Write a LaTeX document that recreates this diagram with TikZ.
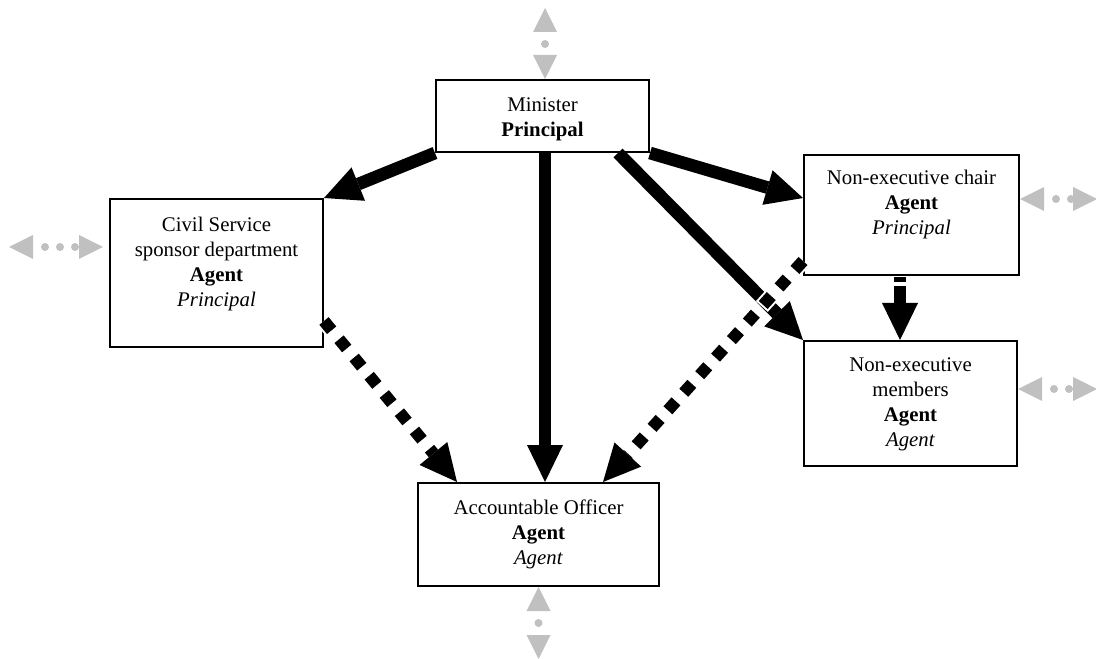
\documentclass[tikz,border=0pt]{standalone}
\usepackage{fontspec}
\setmainfont{Liberation Serif}
\usetikzlibrary{arrows.meta,calc}
\definecolor{lgrey}{RGB}{192,192,192}
\begin{document}
\begin{tikzpicture}[x=0.75pt,y=-0.75pt,
  box/.style={draw, line width=1.5pt, rectangle, inner sep=0pt},
  txt/.style={anchor=north, inner sep=0pt, align=center, font={\fontsize{15.6}{18.75}\selectfont}},
  tip/.style={-{Triangle[length=27.75pt,width=27pt,line width=0pt]}},
  blk/.style={line width=9.5pt, tip},
  dsh/.style={line width=9pt, dash pattern=on 9pt off 8.75pt, tip,
    preaction={draw=white, line width=12pt, dash pattern=on 12pt off 5.75pt, dash phase=1.5pt}},
  gry/.style={draw=lgrey, line width=6pt, line cap=round, dash pattern=on 0pt off 11.25pt, dash phase=2.25pt,
    {Triangle[length=18pt,width=18pt,line width=0pt]}-{Triangle[length=18pt,width=18pt,line width=0pt]}}]
\useasboundingbox (0,0) rectangle (1096,659);

% boxes
\node[box, minimum width=159.75pt, minimum height=54pt]    (min) at (542.5,116)   {};
\node[box, minimum width=159.75pt, minimum height=111pt]   (cs)  at (216.5,273)   {};
\node[box, minimum width=161.25pt, minimum height=90pt]    (chr) at (911.5,215)   {};
\node[box, minimum width=159.75pt, minimum height=93.75pt] (mem) at (910.5,403.5) {};
\node[box, minimum width=180.75pt, minimum height=77.25pt] (acc) at (538.5,534.5) {};

% labels
\node[txt] (mint) at ([yshift=-13.5pt]min.north) {Minister\\\textbf{Principal}};
\node[txt] (cst)  at ([yshift=-14pt]cs.north)    {Civil Service\\sponsor department\\\textbf{Agent}\\\textit{Principal}};
\node[txt] (chrt) at ([yshift=-12pt]chr.north)   {Non-executive chair\\\textbf{Agent}\\\textit{Principal}};
\node[txt] (memt) at ([yshift=-13pt]mem.north)   {Non-executive\\members\\\textbf{Agent}\\\textit{Agent}};
\node[txt] (acct) at ([yshift=-13.5pt]acc.north) {Accountable Officer\\\textbf{Agent}\\\textit{Agent}};

% solid lines of authority
\coordinate (vtop) at ($(min.south)+(2.5,0)$);
\draw[blk] (min.south west) -- (cs.north east);
\draw[blk] (min.south east) -- ($(chr.north west)+(0,44)$);
\draw[blk] ($(min.south east)+(-32,0)$) -- (mem.north west);
\draw[blk] (vtop) -- (vtop |- acc.north);

% dashed lines
\draw[dsh] ($(cs.north east)+(0,123)$) -- ($(acc.north west)+(40,0)$);
\draw[dsh] ($(chr.north west)+(0,107)$) -- ($(acc.north east)+(-57,0)$);
\draw[line width=9pt, dash pattern=on 4pt off 2.5pt on 30pt off 0pt, tip]
  ($(chr.south)+(-11.5,1)$) -- ($(mem.north)+(-10.5,0)$);

% grey two-way links to the outside
\coordinate (gtop) at (545,8);
\draw[gry] (gtop) -- (gtop |- min.north);
\coordinate (gl1) at ($(cs.west)+(-100,-26)$);
\coordinate (gl2) at ($(cs.west)+(-6,-26)$);
\draw[gry] (gl1) -- (gl2);
\coordinate (gr1) at ($(chr.east)+(0,-16)$);
\coordinate (gr2) at ($(gr1)+(77,0)$);
\draw[gry] (gr1) -- (gr2);
\coordinate (gm1) at ($(mem.east)+(0,-14.5)$);
\coordinate (gm2) at ($(gm1)+(79,0)$);
\draw[gry] (gm1) -- (gm2);
\coordinate (gb) at ($(acc.south)+(0,72)$);
\draw[gry] (acc.south) -- (gb);
\end{tikzpicture}
\end{document}
